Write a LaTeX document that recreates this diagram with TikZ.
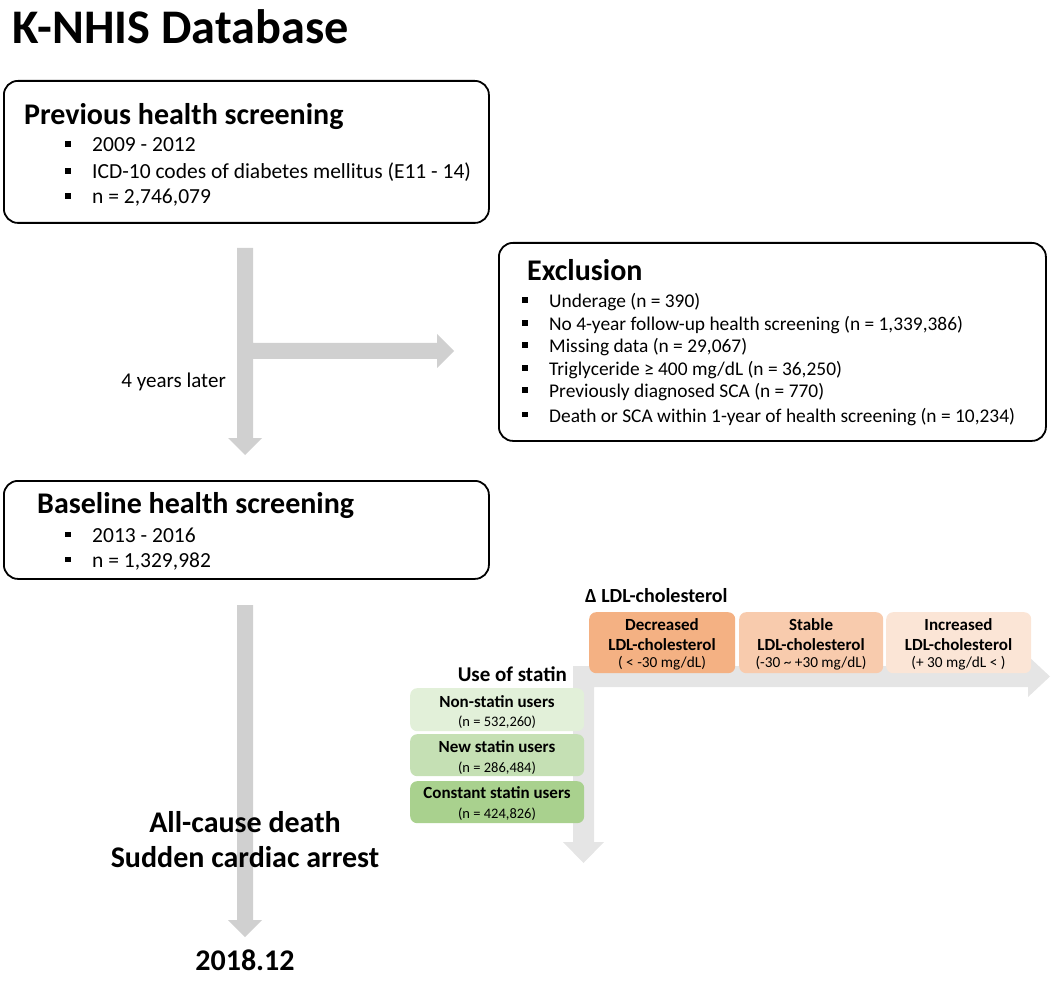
\documentclass[tikz,border=0pt]{standalone}
\usepackage{fontspec}
\setmainfont{Carlito}
\definecolor{arrowgray}{RGB}{208,208,208}
\definecolor{lightarrow}{RGB}{229,229,229}
\definecolor{decr}{RGB}{244,177,131}
\definecolor{stab}{RGB}{248,203,173}
\definecolor{incr}{RGB}{251,229,214}
\definecolor{nonst}{RGB}{226,240,217}
\definecolor{newst}{RGB}{197,224,180}
\definecolor{constst}{RGB}{169,209,142}
\tikzset{
 mainbox/.style={draw=black, line width=1.8pt, rounded corners=14pt, inner sep=0pt, anchor=north west},
 cbox/.style={rounded corners=7pt, inner sep=0pt, anchor=north west},
 txt/.style={inner sep=0pt, anchor=base west, text=black},
 headtxt/.style={txt, font=\fontsize{30}{35}\selectfont\bfseries},
 bodytxt/.style={txt, font=\fontsize{21.5}{25}\selectfont},
 excltxt/.style={txt, font=\fontsize{19.4}{23}\selectfont},
 bigtxt/.style={inner sep=0pt, anchor=base, font=\fontsize{30}{36}\selectfont\bfseries},
 cbold/.style={inner sep=0pt, anchor=base, font=\fontsize{17}{20}\selectfont\bfseries},
 csmall/.style={inner sep=0pt, anchor=base, font=\fontsize{14.5}{17}\selectfont},
 osmall/.style={inner sep=0pt, anchor=base, font=\fontsize{15.3}{18}\selectfont},
}
% style, name, bullet x, baseline y, text
\newcommand\bitem[5]{%
  \fill (#3,#4-10.5) rectangle ++(5.8,5.8);
  \node[#1] (#2) at (#3+27,#4) {#5};
}
\begin{document}
\begin{tikzpicture}[x=1pt,y=-1pt]
\useasboundingbox (0,0) rectangle (1052,981);
% ---------- grey arrows ----------
\fill[arrowgray] (237,248) -- (253,248) -- (253,343) -- (437,343) -- (437,334) -- (454,351) -- (437,368) -- (437,359) -- (253,359) -- (253,438) -- (262,438) -- (245,455) -- (228,438) -- (237,438) -- cycle;
\fill[arrowgray] (237,605) -- (253,605) -- (253,920) -- (262,920) -- (245,937) -- (228,920) -- (237,920) -- cycle;
\fill[lightarrow] (573,666) -- (1028,666) -- (1028,656) -- (1050,676.5) -- (1028,697) -- (1028,687) -- (594,687) -- (594,842) -- (604,842) -- (583.5,863) -- (563,842) -- (573,842) -- cycle;
% ---------- title ----------
\node[txt, font=\fontsize{48.3}{58}\selectfont\bfseries] (title) at (12,44) {K-NHIS Database};
% ---------- previous screening ----------
\node[mainbox, minimum width=485pt, minimum height=142pt] (prev) at (3,80) {};
\node[headtxt] (prevh) at (24,125) {Previous health screening};
\bitem{bodytxt}{p1}{65}{152}{2009 - 2012}
\bitem{bodytxt}{p2}{65}{179}{ICD-10 codes of diabetes mellitus (E11 - 14)}
\bitem{bodytxt}{p3}{65}{204}{n = 2,746,079}
\node[inner sep=0pt, anchor=base east, font=\fontsize{21}{25}\selectfont] (later) at (226,388) {4 years later};
% ---------- exclusion ----------
\node[mainbox, minimum width=547pt, minimum height=198pt] (excl) at (498,242) {};
\node[headtxt] (exclh) at (527,281) {Exclusion};
\bitem{excltxt}{e1}{522}{308}{Underage (n = 390)}
\bitem{excltxt}{e2}{522}{331}{No 4-year follow-up health screening (n = 1,339,386)}
\bitem{excltxt}{e3}{522}{353}{Missing data (n = 29,067)}
\bitem{excltxt}{e4}{522}{376}{Triglyceride ≥ 400 mg/dL (n = 36,250)}
\bitem{excltxt}{e5}{522}{398}{Previously diagnosed SCA (n = 770)}
\bitem{excltxt}{e6}{522}{422}{Death or SCA within 1-year of health screening (n = 10,234)}
% ---------- baseline ----------
\node[mainbox, minimum width=485pt, minimum height=98pt] (base) at (3,480) {};
\node[headtxt] (baseh) at (37,513) {Baseline health screening};
\bitem{bodytxt}{b1}{65}{542}{2013 - 2016}
\bitem{bodytxt}{b2}{65}{567}{n = 1,329,982}
% ---------- outcomes ----------
\node[bigtxt] (out1) at (245,832) {All-cause death};
\node[bigtxt] (out2) at (245,867) {Sudden cardiac arrest};
\node[bigtxt] (end) at (245,970) {2018.12};
% ---------- LDL ----------
\node[txt, font=\fontsize{20}{24}\selectfont\bfseries] (ldlh) at (585,602) {Δ LDL-cholesterol};
\node[cbox, fill=decr, minimum width=146pt, minimum height=61pt] (dec) at (589,612) {};
\node[cbox, fill=stab, minimum width=144pt, minimum height=61pt] (sta) at (739,612) {};
\node[cbox, fill=incr, minimum width=145pt, minimum height=61pt] (inc) at (886,612) {};
\node[cbold] (dec1) at (662,630) {Decreased};
\node[cbold] (dec2) at (662,650) {LDL-cholesterol};
\node[osmall] (dec3) at (662,667) {( < -30 mg/dL)};
\node[cbold] (sta1) at (811,630) {Stable};
\node[cbold] (sta2) at (811,650) {LDL-cholesterol};
\node[osmall] (sta3) at (811,667) {(-30 \textasciitilde{} +30 mg/dL)};
\node[cbold] (inc1) at (958.5,630) {Increased};
\node[cbold] (inc2) at (958.5,650) {LDL-cholesterol};
\node[osmall] (inc3) at (958.5,667) {(+ 30 mg/dL < )};
% ---------- statin ----------
\node[inner sep=0pt, anchor=base east, font=\fontsize{21}{25}\selectfont\bfseries] (stath) at (567,681) {Use of statin};
\node[cbox, fill=nonst, minimum width=174pt, minimum height=43pt] (non) at (410,688) {};
\node[cbox, fill=newst, minimum width=174pt, minimum height=42pt] (new) at (410,734) {};
\node[cbox, fill=constst, minimum width=174pt, minimum height=42pt] (con) at (410,781) {};
\node[cbold] (non1) at (497,707) {Non-statin users};
\node[csmall] (non2) at (497,726) {(n = 532,260)};
\node[cbold] (new1) at (497,752) {New statin users};
\node[csmall] (new2) at (497,772) {(n = 286,484)};
\node[cbold] (con1) at (497,798) {Constant statin users};
\node[csmall] (con2) at (497,818) {(n = 424,826)};
\end{tikzpicture}
\end{document}
